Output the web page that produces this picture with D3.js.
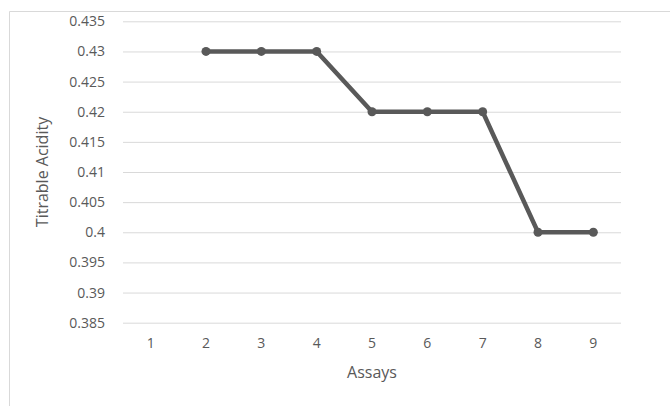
<!DOCTYPE html>
<html><head><meta charset="utf-8">
<script src="https://cdn.jsdelivr.net/npm/d3@7"></script>
<style>body{margin:0;background:#fff;}svg{display:block;font-family:"Open Sans","DejaVu Sans",sans-serif;}</style>
</head><body>
<svg id="c" width="670" height="406"></svg>
<script>
const categories = ["1","2","3","4","5","6","7","8","9"];
const values = [null, 0.43, 0.43, 0.43, 0.42, 0.42, 0.42, 0.40, 0.40];
const yTicks = [0.385,0.39,0.395,0.4,0.405,0.41,0.415,0.42,0.425,0.43,0.435];
const yTickLabels = ["0.385","0.39","0.395","0.4","0.405","0.41","0.415","0.42","0.425","0.43","0.435"];
const xTitle = "Assays";
const yTitle = "Titrable Acidity";

const svg = d3.select("#c");
const m = {left:123, right:621, top:21.3, bottom:322.7};

svg.append("path").attr("d","M670,11.5 H9.5 V406").attr("fill","none").attr("stroke","#d9d9d9").attr("stroke-width",1);

const x = d3.scaleBand().domain(categories).range([m.left,m.right]);
const y = d3.scaleLinear().domain([0.385,0.435]).range([m.bottom,m.top]);

const gy = svg.append("g").attr("transform",`translate(${m.left},0)`)
  .call(d3.axisLeft(y).tickValues(yTicks).tickFormat((d,i)=>yTickLabels[i]).tickSize(-(m.right-m.left)).tickPadding(18));
gy.select(".domain").remove();
gy.selectAll(".tick line").attr("stroke","#d9d9d9").attr("stroke-width",1);
gy.selectAll(".tick text").attr("fill","#595959").attr("font-size","14px").attr("font-family","'Open Sans',sans-serif");

const gx = svg.append("g").attr("transform",`translate(0,${m.bottom})`)
  .call(d3.axisBottom(x).tickSize(0).tickPadding(15));
gx.select(".domain").remove();
gx.selectAll(".tick text").attr("fill","#595959").attr("font-size","14px").attr("font-family","'Open Sans',sans-serif");

const pts = categories.map((c,i)=>({c, v: values[i]})).filter(d=>d.v!==null);
const line = d3.line().x(d=>x(d.c)+x.bandwidth()/2).y(d=>y(d.v));
svg.append("path").datum(pts).attr("d",line).attr("fill","none").attr("stroke","#595959").attr("stroke-width",4.5).attr("stroke-linejoin","round");
svg.selectAll("circle.pt").data(pts).join("circle").attr("class","pt")
  .attr("cx",d=>x(d.c)+x.bandwidth()/2).attr("cy",d=>y(d.v)).attr("r",4.5).attr("fill","#595959");

svg.append("text").attr("x",(m.left+m.right)/2).attr("y",378).attr("text-anchor","middle")
  .attr("fill","#595959").attr("font-size","16px").text(xTitle);
svg.append("text").attr("transform","translate(48,172) rotate(-90)").attr("text-anchor","middle")
  .attr("fill","#595959").attr("font-size","16px").text(yTitle);
</script>
</body></html>
